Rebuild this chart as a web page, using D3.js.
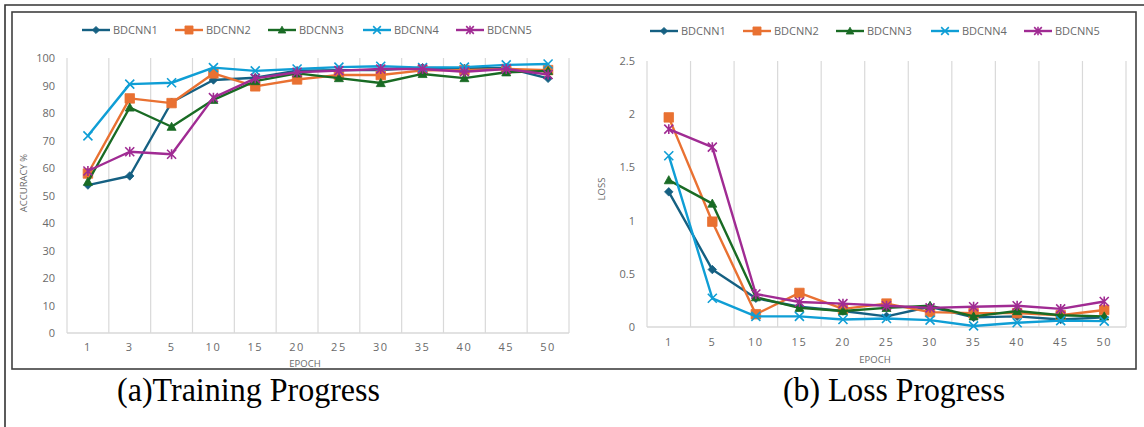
<!DOCTYPE html>
<html>
<head>
<meta charset="utf-8">
<script src="https://cdn.jsdelivr.net/npm/d3@7"></script>
<style>
  html, body { margin: 0; padding: 0; background: #ffffff; }
  svg { display: block; }
</style>
</head>
<body>
<svg id="chart" width="1144" height="427"></svg>
<script>
// ---------------- DATA ----------------
const seriesNames = ["BDCNN1", "BDCNN2", "BDCNN3", "BDCNN4", "BDCNN5"];

// (a) Training progress: accuracy %
const epochsA = ["1", "3", "5", "10", "15", "20", "25", "30", "35", "40", "45", "50"];
const accTicks = [0, 10, 20, 30, 40, 50, 60, 70, 80, 90, 100];
const accBDCNN1 = [53.8, 57.1, 83.9, 92.0, 92.8, 95.4, 95.6, 95.6, 96.5, 96.2, 96.4, 92.6];
const accBDCNN2 = [58.0, 85.3, 83.6, 94.4, 89.7, 92.2, 93.8, 93.8, 95.5, 95.6, 96.0, 95.6];
const accBDCNN3 = [55.0, 82.0, 75.0, 84.8, 91.6, 94.4, 92.7, 90.9, 94.2, 92.7, 94.8, 95.3];
const accBDCNN4 = [71.7, 90.5, 91.0, 96.5, 95.3, 96.0, 96.7, 97.0, 96.5, 96.7, 97.5, 97.8];
const accBDCNN5 = [58.9, 65.9, 65.0, 85.6, 92.6, 94.8, 95.4, 96.0, 96.0, 95.0, 96.0, 94.0];

// (b) Loss progress
const epochsB = ["1", "5", "10", "15", "20", "25", "30", "35", "40", "45", "50"];
const lossTicks = [0, 0.5, 1, 1.5, 2, 2.5];
const lossBDCNN1 = [1.27, 0.54, 0.27, 0.19, 0.15, 0.10, 0.19, 0.09, 0.10, 0.07, 0.09];
const lossBDCNN2 = [1.97, 0.99, 0.12, 0.32, 0.17, 0.22, 0.14, 0.13, 0.13, 0.11, 0.16];
const lossBDCNN3 = [1.38, 1.16, 0.28, 0.18, 0.15, 0.18, 0.20, 0.10, 0.15, 0.11, 0.10];
const lossBDCNN4 = [1.61, 0.27, 0.10, 0.10, 0.07, 0.08, 0.065, 0.01, 0.04, 0.06, 0.055];
const lossBDCNN5 = [1.86, 1.69, 0.31, 0.235, 0.22, 0.20, 0.18, 0.19, 0.20, 0.17, 0.24];

const captionA = "(a)Training Progress";
const captionB = "(b) Loss Progress";

// ---------------- STYLE ----------------
const colors = ["#156082", "#E97132", "#196B24", "#0F9ED5", "#A02B93"];
const markers = ["diamond", "square", "triangle", "x", "star"];
const textGray = "#6a6a6a";
const gridGray = "#d9d9d9";
const fontSans = "'Open Sans', 'Noto Sans', 'DejaVu Sans', sans-serif";

const svg = d3.select("#chart");

// frames
svg.append("path").attr("d", "M5,427 L5,5 L1144,5")
  .attr("fill", "none").attr("stroke", "#333").attr("stroke-width", 1.6);
svg.append("rect").attr("x", 12).attr("y", 12).attr("width", 1124).attr("height", 357)
  .attr("fill", "none").attr("stroke", "#404040").attr("stroke-width", 1.6);

function markerPath(type, s) {
  const h = s / 2;
  switch (type) {
    case "diamond": return `M0,${-h}L${h},0L0,${h}L${-h},0Z`;
    case "square": return `M${-h},${-h}H${h}V${h}H${-h}Z`;
    case "triangle": return `M0,${-h}L${h},${h * 0.8}L${-h},${h * 0.8}Z`;
    case "x": return `M${-h},${-h}L${h},${h}M${-h},${h}L${h},${-h}`;
    case "star": return `M${-h},${-h}L${h},${h}M${-h},${h}L${h},${-h}M0,${-h * 1.1}V${h * 1.1}`;
  }
}
const markerSize = { diamond: 8.5, square: 9.5, triangle: 9, x: 9, star: 9 };
function drawMarker(g, type, color, x, y, scale) {
  const s = markerSize[type] * (scale || 1);
  const stroked = (type === "x" || type === "star");
  g.append("path")
    .attr("transform", `translate(${x},${y})`)
    .attr("d", markerPath(type, s))
    .attr("fill", stroked ? "none" : color)
    .attr("stroke", color)
    .attr("stroke-width", stroked ? 1.6 : 0.8);
}

function drawChart(cfg) {
  const g = svg.append("g");
  const x = d3.scaleBand().domain(cfg.categories).range([cfg.left, cfg.right]).padding(0);
  const y = d3.scaleLinear().domain([cfg.ticks[0], cfg.ticks[cfg.ticks.length - 1]])
    .range([cfg.bottom, cfg.top]);

  // vertical gridlines at band edges
  const edges = cfg.categories.map(c => x(c)).concat([x(cfg.categories[cfg.categories.length - 1]) + x.bandwidth()]);
  g.selectAll(".vgrid").data(edges).join("line")
    .attr("x1", d => d).attr("x2", d => d)
    .attr("y1", cfg.top).attr("y2", cfg.bottom)
    .attr("stroke", gridGray).attr("stroke-width", 1.2);
  // baseline
  g.append("line").attr("x1", cfg.left).attr("x2", cfg.right)
    .attr("y1", cfg.bottom).attr("y2", cfg.bottom)
    .attr("stroke", gridGray).attr("stroke-width", 1.4);

  // y axis
  const yAxis = g.append("g").attr("transform", `translate(${cfg.left},0)`)
    .call(d3.axisLeft(y).tickValues(cfg.ticks).tickSize(0).tickPadding(12)
      .tickFormat(d => d3.format("~g")(d)));
  yAxis.select(".domain").remove();
  yAxis.selectAll("text").attr("fill", textGray)
    .style("font-family", fontSans).style("font-size", "11px");

  // x axis
  const xAxis = g.append("g").attr("transform", `translate(0,${cfg.bottom})`)
    .call(d3.axisBottom(x).tickSize(0).tickPadding(cfg.xPad));
  xAxis.select(".domain").remove();
  xAxis.selectAll("text").attr("fill", textGray)
    .style("font-family", fontSans).style("font-size", "11px")
    .style("letter-spacing", "1.5px");

  // axis titles
  g.append("text").attr("x", cfg.xTitle[0]).attr("y", cfg.xTitle[1])
    .attr("text-anchor", "middle").attr("fill", textGray)
    .style("font-family", fontSans).style("font-size", "9.5px").text("EPOCH");
  g.append("text")
    .attr("transform", `translate(${cfg.yTitle[0]},${cfg.yTitle[1]}) rotate(-90)`)
    .attr("text-anchor", "middle").attr("fill", textGray)
    .style("font-family", fontSans).style("font-size", "9.5px").text(cfg.yTitleText);

  // series
  const line = d3.line().x((d, i) => x(cfg.categories[i]) + x.bandwidth() / 2).y(d => y(d));
  cfg.series.forEach((vals, si) => {
    const sg = g.append("g");
    sg.append("path").datum(vals).attr("d", line)
      .attr("fill", "none").attr("stroke", colors[si]).attr("stroke-width", 2.4)
      .attr("stroke-linejoin", "round");
    vals.forEach((v, i) => {
      drawMarker(sg, markers[si], colors[si], x(cfg.categories[i]) + x.bandwidth() / 2, y(v));
    });
  });

  // legend
  const lg = g.append("g");
  seriesNames.forEach((name, i) => {
    const lx = cfg.legendX[i], ly = cfg.legendY;
    lg.append("line").attr("x1", lx).attr("x2", lx + 28).attr("y1", ly).attr("y2", ly)
      .attr("stroke", colors[i]).attr("stroke-width", 2.4);
    drawMarker(lg, markers[i], colors[i], lx + 14, ly, 0.85);
    lg.append("text").attr("x", lx + 31).attr("y", ly).attr("dy", "0.36em")
      .attr("fill", textGray).style("font-family", fontSans).style("font-size", "11px")
      .text(name);
  });
}

drawChart({
  categories: epochsA, ticks: accTicks,
  series: [accBDCNN1, accBDCNN2, accBDCNN3, accBDCNN4, accBDCNN5],
  left: 67, right: 569, top: 58, bottom: 333, xPad: 10,
  xTitle: [305, 367], yTitle: [27, 183], yTitleText: "ACCURACY %",
  legendX: [82, 175, 268, 363, 456], legendY: 30
});

drawChart({
  categories: epochsB, ticks: lossTicks,
  series: [lossBDCNN1, lossBDCNN2, lossBDCNN3, lossBDCNN4, lossBDCNN5],
  left: 647, right: 1126, top: 61, bottom: 327, xPad: 11,
  xTitle: [875, 363], yTitle: [605, 189], yTitleText: "LOSS",
  legendX: [650, 743, 836, 931, 1024], legendY: 31
});

// captions
svg.append("text").attr("x", 117).attr("y", 401)
  .attr("textLength", 263).attr("lengthAdjust", "spacingAndGlyphs")
  .style("font-family", "'Liberation Serif', 'Times New Roman', serif")
  .style("font-size", "33px").attr("fill", "#000").text(captionA);
svg.append("text").attr("x", 783).attr("y", 401)
  .attr("textLength", 222).attr("lengthAdjust", "spacingAndGlyphs")
  .style("font-family", "'Liberation Serif', 'Times New Roman', serif")
  .style("font-size", "33px").attr("fill", "#000").text(captionB);
</script>
</body>
</html>
